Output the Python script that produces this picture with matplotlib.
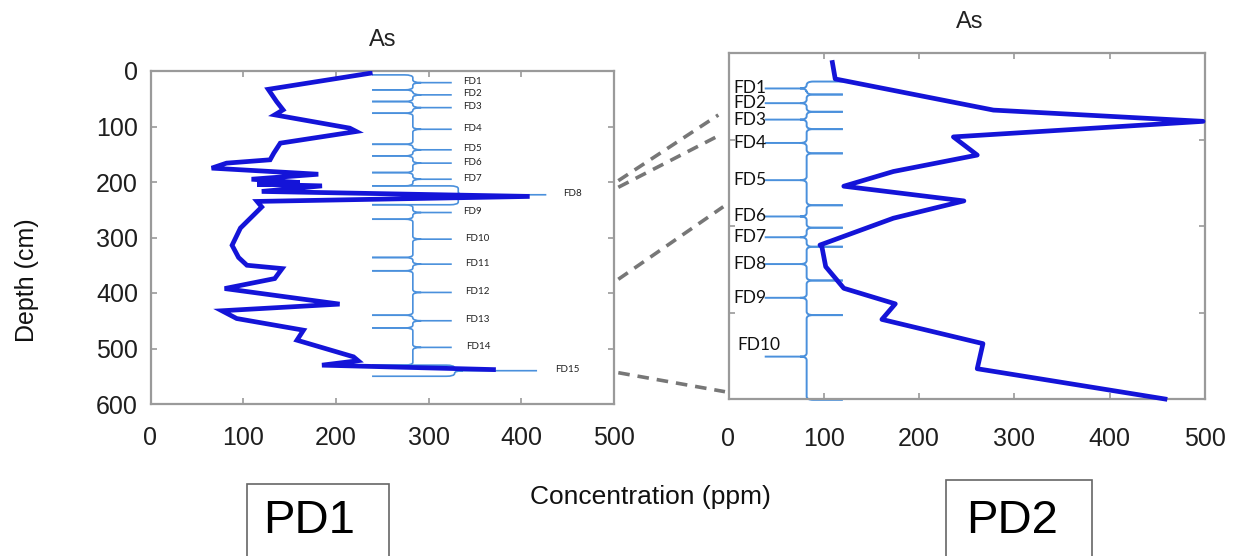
import matplotlib
matplotlib.use("Agg")
import matplotlib.pyplot as plt
from matplotlib.path import Path
from matplotlib.patches import PathPatch, Rectangle
from matplotlib.lines import Line2D

# ---------------- data ----------------
# PD1 profile (concentration ppm, depth cm)
pd1_conc = [237, 127, 136, 143, 134, 215, 222, 140, 133, 129, 82, 66, 181, 109, 161, 115,
            185, 120, 409, 115, 120, 97, 88, 95, 104, 142, 134, 80, 204, 77, 93, 165, 158,
            219, 224, 185, 370]
pd1_depth = [4, 33, 55, 70, 79, 103, 109, 130, 148, 160, 166, 175, 186, 195, 201, 204,
             207, 217, 226, 235, 245, 283, 314, 336, 350, 356, 374, 392, 420, 432, 446, 467, 485,
             515, 522, 530, 538]

# PD2 profile
pd2_conc = [109, 112, 278, 498, 236, 261, 173, 121, 247, 173, 96, 98, 102, 121, 175, 161, 267, 261, 458]
pd2_depth = [11, 30, 66, 79, 97, 118, 137, 154, 171, 191, 222, 224, 247, 272, 290, 308, 336, 365, 400]

# PD1 zones: (label, top, tip, bottom)
pd1_labels = ["FD1", "FD2", "FD3", "FD4", "FD5", "FD6", "FD7", "FD8",
              "FD9", "FD10", "FD11", "FD12", "FD13", "FD14", "FD15"]
pd1_top = [7, 34, 55, 76, 132, 153, 183, 207, 241, 267, 336, 360, 440, 463, 530]
pd1_tip = [21, 43, 66, 105, 142, 166, 195, 223, 255, 303, 348, 399, 450, 498, 540]
pd1_bot = [34, 55, 76, 132, 153, 183, 207, 241, 267, 336, 360, 440, 463, 530, 550]
pd1_xv = [283, 283, 283, 283, 283, 283, 283, 332, 283, 283, 283, 283, 283, 283, 328]
pd1_xtip = [325, 325, 325, 325, 325, 325, 325, 427, 325, 325, 325, 325, 325, 325, 417]
pd1_xlab = [337, 337, 337, 337, 337, 337, 337, 445, 337, 339, 339, 339, 339, 341, 436]
pd1_xarm = 239

# PD2 zones
pd2_labels = ["FD1", "FD2", "FD3", "FD4", "FD5", "FD6", "FD7", "FD8", "FD9", "FD10"]
pd2_top = [33, 48, 68, 88, 116, 176, 202, 224, 263, 303]
pd2_tip = [41, 58, 77, 104, 147, 189, 213, 244, 283, 351]
pd2_bot = [48, 68, 88, 116, 176, 202, 224, 263, 303, 401]
pd2_xv = 82
pd2_xarm = 120
pd2_xtip = 38

xticks = [0, 100, 200, 300, 400, 500]
pd1_yticks = [0, 100, 200, 300, 400, 500, 600]
pd2_yticks = [0, 100, 200, 300, 400]

# ---------------- style ----------------
W, H = 1245, 556
PROF = "#1414d8"
BRACE = "#4a90dc"
SPINE = "#9a9a9a"
plt.rcParams['font.family'] = ['Liberation Sans', 'DejaVu Sans']

fig = plt.figure(figsize=(W / 100, H / 100), dpi=100)
fig.patch.set_facecolor("white")


def fx(x):
    return x / W


def fy(y):
    return 1 - y / H


def brace(ax, xv, xarm, xtip, y0, ym, y1, rx, ry, lw):
    s = 1 if xtip > xv else -1
    verts = [(xarm, y0), (xv - s * rx, y0), (xv, y0), (xv, y0 + ry),
             (xv, ym - ry), (xv, ym), (xv + s * rx, ym), (xtip, ym),
             (xv + s * rx, ym), (xv, ym), (xv, ym + ry),
             (xv, y1 - ry), (xv, y1), (xv - s * rx, y1), (xarm, y1)]
    codes = [Path.MOVETO, Path.LINETO, Path.CURVE3, Path.CURVE3,
             Path.LINETO, Path.CURVE3, Path.CURVE3, Path.LINETO,
             Path.MOVETO, Path.CURVE3, Path.CURVE3,
             Path.LINETO, Path.CURVE3, Path.CURVE3, Path.LINETO]
    ax.add_patch(PathPatch(Path(verts, codes), fill=False, edgecolor=BRACE,
                           lw=lw, clip_on=False, capstyle='butt'))


def style_axes(ax):
    for sp in ax.spines.values():
        sp.set_color(SPINE)
        sp.set_linewidth(1.6)
    ax.tick_params(direction='in', length=4, width=1.2, color=SPINE,
                   top=True, right=True, labelsize=18, labelcolor="#1e1e1e")


# ---------------- PD1 ----------------
ax1 = fig.add_axes([fx(150.5), fy(404), 463.5 / W, 333 / H])
ax1.set_xlim(0, 500)
ax1.set_ylim(600, 0)
ax1.set_xticks(xticks)
ax1.set_yticks(pd1_yticks)
style_axes(ax1)
ax1.tick_params(axis='x', pad=16)
ax1.tick_params(axis='y', pad=9)

for i, lab in enumerate(pd1_labels):
    brace(ax1, pd1_xv[i], pd1_xarm, pd1_xtip[i], pd1_top[i], pd1_tip[i], pd1_bot[i],
          9, 5, 1.2)
    ax1.text(pd1_xlab[i], pd1_tip[i] - 2, lab, fontsize=7, ha='left', va='center',
             color="#222222", family=['Lato', 'DejaVu Sans'])

ax1.plot(pd1_conc, pd1_depth, color=PROF, lw=3.4, solid_joinstyle='miter', zorder=5)
ax1.text(0.5, 1.093, "As", transform=ax1.transAxes, ha='center', va='center',
         fontsize=17, color="#222222")

# ---------------- PD2 ----------------
ax2 = fig.add_axes([fx(728.5), fy(399), 476.5 / W, 346 / H])
ax2.set_xlim(0, 500)
ax2.set_ylim(400, 0)
ax2.set_xticks(xticks)
ax2.set_yticks(pd2_yticks)
ax2.set_yticklabels([])
style_axes(ax2)
ax2.tick_params(axis='x', pad=20)

for i, lab in enumerate(pd2_labels):
    brace(ax2, pd2_xv, pd2_xarm, pd2_xtip, pd2_top[i], pd2_tip[i], pd2_bot[i],
          7, 4.0, 1.4)
    if lab == "FD10":
        ax2.text(32, pd2_tip[i] - 4, lab, fontsize=12.5, ha='center', va='bottom',
                 color="#111111", family=['Lato', 'DejaVu Sans'])
    else:
        ax2.text(pd2_xtip + 2, pd2_tip[i], lab, fontsize=12.5, ha='right', va='center',
                 color="#111111", family=['Lato', 'DejaVu Sans'])

ax2.plot(pd2_conc, pd2_depth, color=PROF, lw=3.4, zorder=5, clip_on=False)
ax2.text(0.507, 1.09, "As", transform=ax2.transAxes, ha='center', va='center',
         fontsize=17, color="#222222")

# ---------------- connectors ----------------
connectors = [((618.3, 180.7), (718.3, 115)),
              ((618.3, 187.3), (720, 135)),
              ((618.3, 279.3), (723.3, 206.7)),
              ((618.3, 372.7), (725, 391.7))]
for (x0, y0), (x1, y1) in connectors:
    fig.add_artist(Line2D([fx(x0), fx(x1)], [fy(y0), fy(y1)], transform=fig.transFigure,
                          color="#777777", lw=2.6, ls=(0, (3.2, 2.2))))

# ---------------- figure texts ----------------
fig.text(fx(27), fy(280), "Depth (cm)", rotation=90, ha='center', va='center',
         fontsize=18, color="#111111")
fig.text(fx(650), fy(497), "Concentration (ppm)", ha='center', va='center',
         fontsize=19, color="#111111")

for (xl, xr, yt, xc, yc, lab) in [(247, 389, 484, 309, 521, "PD1"),
                                  (946, 1092, 480, 1012, 521, "PD2")]:
    fig.add_artist(Rectangle((fx(xl), -0.02), (xr - xl) / W, (H - yt) / H + 0.02,
                             transform=fig.transFigure, fill=False,
                             edgecolor="#666666", lw=1.2))
    fig.text(fx(xc), fy(yc), lab, ha='center', va='center', fontsize=34, color="black")

fig.savefig("out.png", dpi=100, facecolor="white")
